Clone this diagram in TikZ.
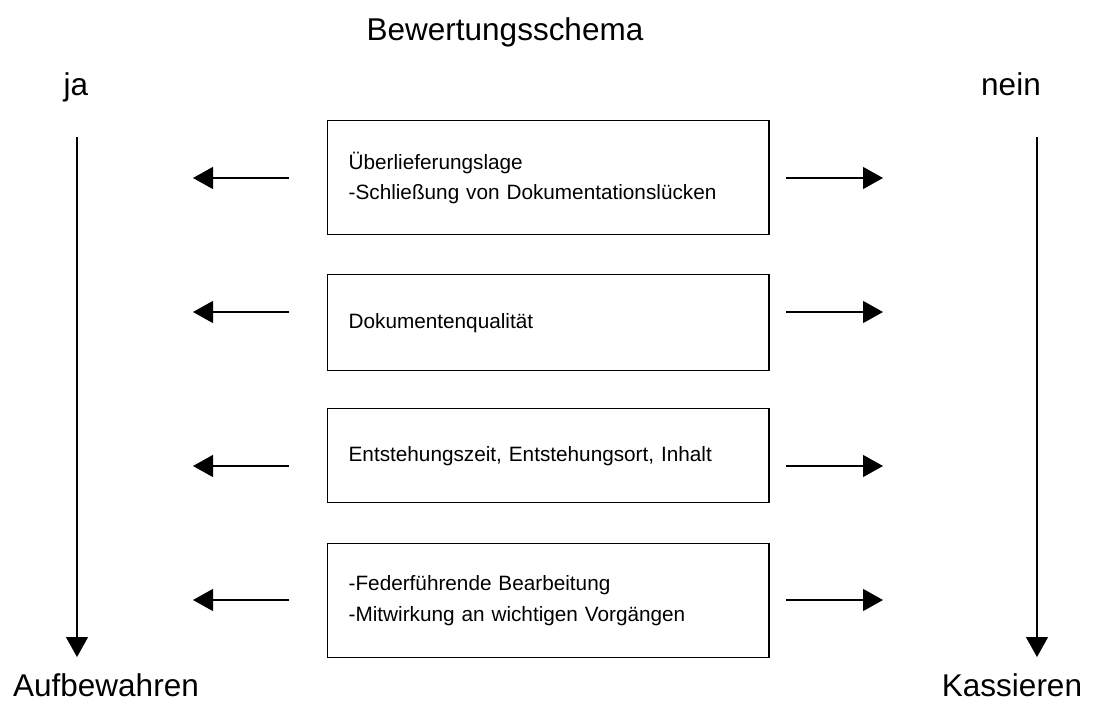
\documentclass[tikz,border=0pt]{standalone}
\usepackage{fontspec}
\setmainfont{Liberation Sans}
\usetikzlibrary{arrows.meta,positioning}

\begin{document}
\begin{tikzpicture}[x=0.025cm, y=-0.025cm,
    critbox/.style={draw, line width=0.9pt, anchor=north west, minimum width=11.03cm,
        inner xsep=0.525cm, text width=9.98cm, align=left,
        font=\fontsize{14.75}{21.5}\selectfont},
    biglabel/.style={anchor=base, inner sep=0pt, font=\fontsize{22.4}{27}\selectfont},
    flow/.style={-{Triangle[length=0.5cm,width=0.55cm]}, line width=0.9pt}]
    \useasboundingbox (0,0) rectangle (1094,704);

    % Titel und Seiten
    \node[biglabel] (title) at (505,40) {Bewertungsschema};
    \node[biglabel] (ja) at (76,95) {ja};
    \node[biglabel] (nein) at (1011,95) {nein};
    \node[biglabel] (aufb) at (106,696) {Aufbewahren};
    \node[biglabel] (kass) at (1012,696) {Kassieren};

    % Kriterien
    \node[critbox, minimum height=2.85cm] (k1) at (327,120) {\"Uberlieferungslage\\-Schlie\ss ung von Dokumentationsl\"ucken};
    \node[critbox, minimum height=2.4cm] (k2) at (327,274) {Dokumentenqualit\"at};
    \node[critbox, minimum height=2.35cm] (k3) at (327,408) {Entstehungszeit, Entstehungsort, Inhalt};
    \node[critbox, minimum height=2.85cm] (k4) at (327,543) {-Federf\"uhrende Bearbeitung\\-Mitwirkung an wichtigen Vorg\"angen};

    % Pfeile
    \coordinate (jaTop) at (77,137);
    \coordinate (jaEnd) at (77,657);
    \coordinate (neinTop) at (1037,137);
    \coordinate (neinEnd) at (1037,657);
    \draw[flow] (jaTop) -- (jaEnd);
    \draw[flow] (neinTop) -- (neinEnd);

    \foreach \y [count=\i] in {178,312,466,600} {
        \coordinate (ls\i) at (289,\y);
        \coordinate (le\i) at (193,\y);
        \coordinate (rs\i) at (786,\y);
        \coordinate (re\i) at (883,\y);
        \draw[flow] (ls\i) -- (le\i);
        \draw[flow] (rs\i) -- (re\i);
    }
\end{tikzpicture}
\end{document}
